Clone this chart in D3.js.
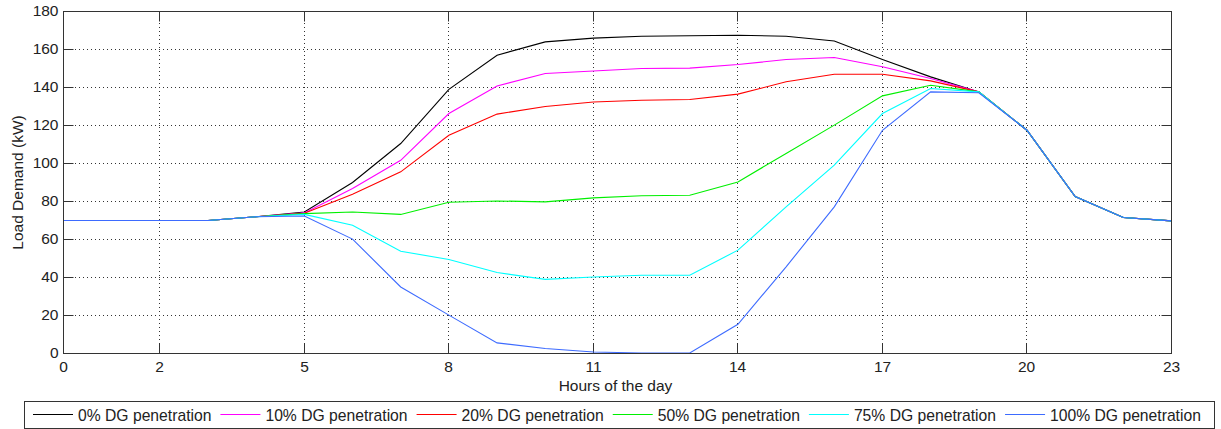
<!DOCTYPE html>
<html>
<head>
<meta charset="utf-8">
<script src="https://cdn.jsdelivr.net/npm/d3@7"></script>
<style>
  body { margin: 0; background: #fff; }
  svg text { font-family: "Liberation Sans", Arial, sans-serif; fill: #222; }
</style>
</head>
<body>
<svg id="chart" width="1221" height="429"></svg>
<script>
// hours of the day
const hours = d3.range(0, 24)
const xTicks = [0, 2, 5, 8, 11, 14, 17, 20, 23]
const yTicks = [0, 20, 40, 60, 80, 100, 120, 140, 160, 180]

// load demand (kW) per DG penetration level
const seriesNames = ['0% DG penetration', '10% DG penetration', '20% DG penetration',
  '50% DG penetration', '75% DG penetration', '100% DG penetration']
const dg0 = [70, 70, 70, 70, 72, 74.5, 90, 110.5, 139, 157, 164, 166, 167, 167.2, 167.5, 167, 164.5, 154.7, 145.6, 137.7, 117.5, 82.6, 71.6, 69.8]
const dg10 = [70, 70, 70, 70, 72, 74, 86.8, 101.7, 126.3, 140.8, 147.4, 148.7, 150, 150.2, 152.1, 154.7, 155.8, 150.9, 144.7, 137.7, 117.5, 82.6, 71.6, 69.8]
const dg20 = [70, 70, 70, 70, 72, 73.8, 83.8, 95.6, 114.9, 126, 130, 132.4, 133.3, 133.7, 136.5, 143, 147, 147, 143.5, 137.7, 117.5, 82.6, 71.6, 69.8]
const dg50 = [70, 70, 70, 70, 72, 73.6, 74.5, 73.2, 79.6, 80.3, 79.8, 81.9, 83, 83.3, 90.3, 105.3, 120.2, 135.6, 141.2, 137.7, 117.5, 82.6, 71.6, 69.8]
const dg75 = [70, 70, 70, 70, 72, 73.2, 67.5, 53.8, 49.5, 42.6, 39, 40.3, 41.2, 41.2, 54.4, 77.2, 99.1, 126.3, 139.5, 137.7, 117.5, 82.6, 71.6, 69.8]
const dg100 = [70, 70, 70, 70, 72, 72.4, 60.2, 35, 20.2, 5.6, 2.6, 0.8, 0.3, 0.3, 15.4, 45.6, 77.2, 117.5, 137.7, 137.2, 117.5, 82.6, 71.6, 69.8]
const seriesValues = [dg0, dg10, dg20, dg50, dg75, dg100]
const colors = ['#000000', '#ff00ff', '#ff0000', '#00f000', '#00ffff', '#3d6bff']

const svg = d3.select('#chart')
const plotLeft = 63, plotRight = 1171, plotTop = 11, plotBottom = 353
const fontSize = 15.5

const x = d3.scaleLinear().domain([0, 23]).range([plotLeft, plotRight])
const y = d3.scaleLinear().domain([0, 180]).range([plotBottom, plotTop])
// rounded copies so that ticks and grid sit on whole pixels
const xr = x.copy().rangeRound([plotLeft, plotRight])
const yr = y.copy().rangeRound([plotBottom, plotTop])

// dotted grid
const grid = svg.append('g').attr('stroke', '#333').attr('stroke-dasharray', '1,3')
grid.selectAll('.gx').data(xTicks.slice(1, -1)).enter().append('line')
  .attr('x1', d => xr(d) + 0.5).attr('x2', d => xr(d) + 0.5)
  .attr('y1', plotTop).attr('y2', plotBottom)
grid.selectAll('.gy').data(yTicks.slice(1, -1)).enter().append('line')
  .attr('x1', plotLeft).attr('x2', plotRight)
  .attr('y1', d => yr(d) + 0.5).attr('y2', d => yr(d) + 0.5)

// axes, ticks pointing inward
function styleAxis(g) {
  g.select('.domain').remove()
  g.selectAll('.tick line').attr('stroke', '#333')
  g.selectAll('.tick text').attr('font-size', fontSize).attr('font-family', null).attr('fill', '#222')
}
svg.append('g').attr('transform', `translate(0,${plotBottom + 0.5})`)
  .call(d3.axisBottom(xr).tickValues(xTicks).tickSizeInner(-10).tickSizeOuter(0).tickPadding(7))
  .call(styleAxis)
svg.append('g').attr('transform', `translate(0,${plotTop + 0.5})`)
  .call(d3.axisTop(xr).tickValues(xTicks).tickSizeInner(-10).tickSizeOuter(0).tickFormat(''))
  .call(styleAxis)
svg.append('g').attr('transform', `translate(${plotLeft + 0.5},0)`)
  .call(d3.axisLeft(yr).tickValues(yTicks).tickSizeInner(-10).tickSizeOuter(0).tickPadding(5))
  .call(styleAxis)
svg.append('g').attr('transform', `translate(${plotRight + 0.5},0)`)
  .call(d3.axisRight(yr).tickValues(yTicks).tickSizeInner(-10).tickSizeOuter(0).tickFormat(''))
  .call(styleAxis)

// series lines
const line = d3.line().x((d, i) => x(hours[i]) + 0.5).y(d => y(d) + 0.5)
svg.append('g').selectAll('path').data(seriesValues).enter().append('path')
  .attr('fill', 'none')
  .attr('stroke', (d, i) => colors[i])
  .attr('stroke-width', 1.1)
  .attr('d', line)

// plot box
svg.append('rect')
  .attr('x', plotLeft + 0.5).attr('y', plotTop + 0.5)
  .attr('width', plotRight - plotLeft).attr('height', plotBottom - plotTop)
  .attr('fill', 'none').attr('stroke', '#333')

// axis titles
svg.append('text')
  .attr('x', 615.5).attr('y', 391)
  .attr('text-anchor', 'middle').attr('font-size', fontSize)
  .text('Hours of the day')
svg.append('text')
  .attr('transform', `translate(23,${(plotTop + plotBottom) / 2 + 0.5}) rotate(-90)`)
  .attr('text-anchor', 'middle').attr('font-size', fontSize)
  .text('Load Demand (kW)')

// legend
const legend = svg.append('g')
legend.append('rect')
  .attr('x', 24.5).attr('y', 401.5).attr('width', 1190).attr('height', 27)
  .attr('fill', '#fff').attr('stroke', '#333')
let lx = 33
seriesNames.forEach((name, i) => {
  legend.append('line')
    .attr('x1', lx).attr('x2', lx + 40).attr('y1', 414.5).attr('y2', 414.5)
    .attr('stroke', colors[i]).attr('stroke-width', 1.1)
  const t = legend.append('text')
    .attr('x', lx + 45).attr('y', 420.5)
    .attr('font-size', 15.7)
    .text(name)
  lx += 45 + t.node().getComputedTextLength() + 9
})
</script>
</body>
</html>
